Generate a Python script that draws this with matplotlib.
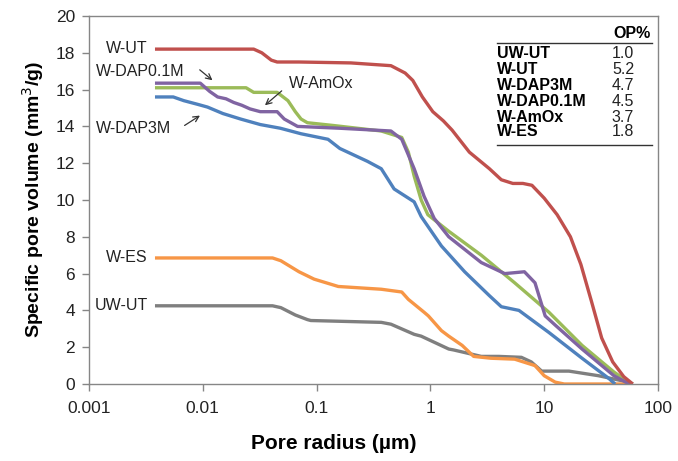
import matplotlib.pyplot as plt
from matplotlib.lines import Line2D

plt.rcParams['font.family'] = ['Liberation Sans', 'DejaVu Sans']

# pore radius (um) / specific pore volume (mm3/g)
ut_x = [0.0038, 0.028, 0.033, 0.04, 0.045, 0.07, 0.2, 0.45, 0.6, 0.7, 0.85, 1.05, 1.3, 1.55,
        2.2, 3.3, 4.2, 5.3, 6.5, 7.8, 10, 13, 17, 21, 26, 32, 40, 50, 60]
ut_y = [18.2, 18.2, 18.0, 17.6, 17.5, 17.5, 17.45, 17.3, 16.9, 16.5, 15.6, 14.8, 14.3, 13.8,
        12.6, 11.7, 11.1, 10.9, 10.9, 10.8, 10.1, 9.2, 8.0, 6.5, 4.5, 2.5, 1.2, 0.4, 0.0]

dap01_x = [0.0038, 0.024, 0.028, 0.045, 0.056, 0.065, 0.073, 0.083, 0.14, 0.37, 0.56, 0.64,
           0.72, 0.83, 0.95, 1.45, 2.8, 5.5, 11, 21.5, 41, 55, 60]
dap01_y = [16.1, 16.1, 15.85, 15.85, 15.4, 14.8, 14.4, 14.2, 14.05, 13.75, 13.4, 12.6,
           11.3, 10.0, 9.2, 8.3, 7.0, 5.5, 3.9, 2.1, 0.65, 0.1, 0.0]

amox_x = [0.0038, 0.0095, 0.0115, 0.0135, 0.016, 0.0187, 0.022, 0.026, 0.032, 0.045, 0.052,
          0.068, 0.16, 0.45, 0.56, 0.72, 0.88, 1.08, 1.45, 2.8, 4.5, 6.7, 8.3, 10.2, 12.5,
          21.5, 41, 52, 58]
amox_y = [16.35, 16.35, 15.9, 15.6, 15.5, 15.3, 15.15, 14.95, 14.8, 14.8, 14.4,
          14.0, 13.9, 13.75, 13.3, 11.7, 10.2, 9.0, 8.0, 6.6, 6.0, 6.1, 5.5, 3.7, 3.2,
          1.9, 0.45, 0.1, 0.0]

dap3_x = [0.0038, 0.0055, 0.0068, 0.009, 0.011, 0.015, 0.0215, 0.032, 0.048, 0.073, 0.126,
          0.16, 0.28, 0.37, 0.48, 0.72, 0.83, 1.25, 2.0, 3.3, 4.2, 6.0, 11, 21.5, 37, 42]
dap3_y = [15.6, 15.6, 15.4, 15.2, 15.05, 14.7, 14.4, 14.1, 13.9, 13.6, 13.3,
          12.8, 12.1, 11.7, 10.6, 9.9, 9.1, 7.5, 6.1, 4.8, 4.2, 4.0, 2.8, 1.4, 0.3, 0.0]

es_x = [0.0038, 0.041, 0.0485, 0.07, 0.095, 0.155, 0.37, 0.56, 0.64, 0.88, 0.96, 1.25,
        1.45, 1.9, 2.4, 3.4, 5.5, 8.3, 10, 12.5, 15, 30, 60]
es_y = [6.85, 6.85, 6.7, 6.1, 5.7, 5.3, 5.15, 5.0, 4.6, 3.9, 3.7, 2.9,
        2.6, 2.1, 1.5, 1.4, 1.35, 1.0, 0.45, 0.1, 0.0, 0.0, 0.0]

uwut_x = [0.0038, 0.041, 0.0485, 0.065, 0.083, 0.089, 0.37, 0.45, 0.72, 0.83, 1.45, 1.6,
          2.8, 4.0, 6.3, 7.7, 9.5, 16.5, 30, 55, 60]
uwut_y = [4.25, 4.25, 4.15, 3.75, 3.5, 3.45, 3.35, 3.25, 2.7, 2.6, 1.9, 1.85,
          1.5, 1.5, 1.45, 1.2, 0.7, 0.7, 0.45, 0.1, 0.0]

samples = ['UW-UT', 'W-UT', 'W-DAP3M', 'W-DAP0.1M', 'W-AmOx', 'W-ES']
op = ['1.0', '5.2', '4.7', '4.5', '3.7', '1.8']

W, H = 678, 461
fig = plt.figure(figsize=(W / 100, H / 100), dpi=100)
ax = fig.add_axes([89 / W, 1 - 384 / H, (658 - 89) / W, (384 - 16) / H])

lw = 2.4
style = dict(lw=lw, solid_joinstyle='round', solid_capstyle='butt')
ax.plot(uwut_x, uwut_y, color='#7F7F7F', **style)
ax.plot(es_x, es_y, color='#F79646', **style)
ax.plot(dap3_x, dap3_y, color='#4F81BD', **style)
ax.plot(dap01_x, dap01_y, color='#9BBB59', **style)
ax.plot(amox_x, amox_y, color='#8064A2', **style)
ax.plot(ut_x, ut_y, color='#C0504D', **style)

ax.set_xscale('log')
ax.set_xlim(0.001, 100)
ax.set_ylim(0, 20)
ax.set_xticks([0.001, 0.01, 0.1, 1, 10, 100])
ax.set_xticklabels(['0.001', '0.01', '0.1', '1', '10', '100'])
ax.minorticks_off()
ax.set_yticks(range(0, 21, 2))
for s in ax.spines.values():
    s.set_color('#868686')
    s.set_linewidth(1.0)
ax.tick_params(direction='out', length=5, width=1, color='#868686',
               labelsize=12.5, labelcolor='#222222')
ax.tick_params(axis='x', pad=7)
ax.tick_params(axis='y', pad=5)

ax.set_xlabel('Pore radius (µm)', fontsize=15, fontweight='bold')
ax.xaxis.set_label_coords((334 - 89) / (658 - 89), -0.135)
ax.set_ylabel('Specific pore volume (mm$^3$/g)', fontsize=14, fontweight='bold', labelpad=7)

# curve labels
lab = dict(fontsize=11.5, color='#222222', va='center')
ax.text(0.0033, 18.25, 'W-UT', ha='right', **lab)
ax.text(0.00115, 17.0, 'W-DAP0.1M', ha='left', **lab)
ax.text(0.057, 16.35, 'W-AmOx', ha='left', **lab)
ax.text(0.00115, 13.9, 'W-DAP3M', ha='left', **lab)
ax.text(0.0033, 6.9, 'W-ES', ha='right', **lab)
ax.text(0.0033, 4.25, 'UW-UT', ha='right', **lab)

arr = dict(arrowstyle='->', color='#333333', lw=0.9)
ax.annotate('', xy=(0.0127, 16.41), xytext=(0.0090, 17.17), arrowprops=arr)
ax.annotate('', xy=(0.0337, 15.05), xytext=(0.0515, 16.03), arrowprops=arr)
ax.annotate('', xy=(0.0099, 14.67), xytext=(0.0066, 13.97), arrowprops=arr)

# OP% table
def fx(px):
    return px / W

def fy(py):
    return 1 - py / H

tfs = 11.5
fig.text(fx(651), fy(33), 'OP%', ha='right', va='center', fontsize=tfs, fontweight='bold')
fig.add_artist(Line2D([fx(497), fx(652)], [fy(43), fy(43)], color='#333333', lw=1.0))
rows_y = [53, 69, 85, 101, 117, 132]
for name, val, ry in zip(samples, op, rows_y):
    fig.text(fx(497), fy(ry), name, ha='left', va='center', fontsize=tfs, fontweight='bold')
    fig.text(fx(623), fy(ry), val, ha='center', va='center', fontsize=tfs, color='#222222')
fig.add_artist(Line2D([fx(497), fx(652)], [fy(145), fy(145)], color='#333333', lw=1.0))

fig.savefig('out.png', dpi=100)
